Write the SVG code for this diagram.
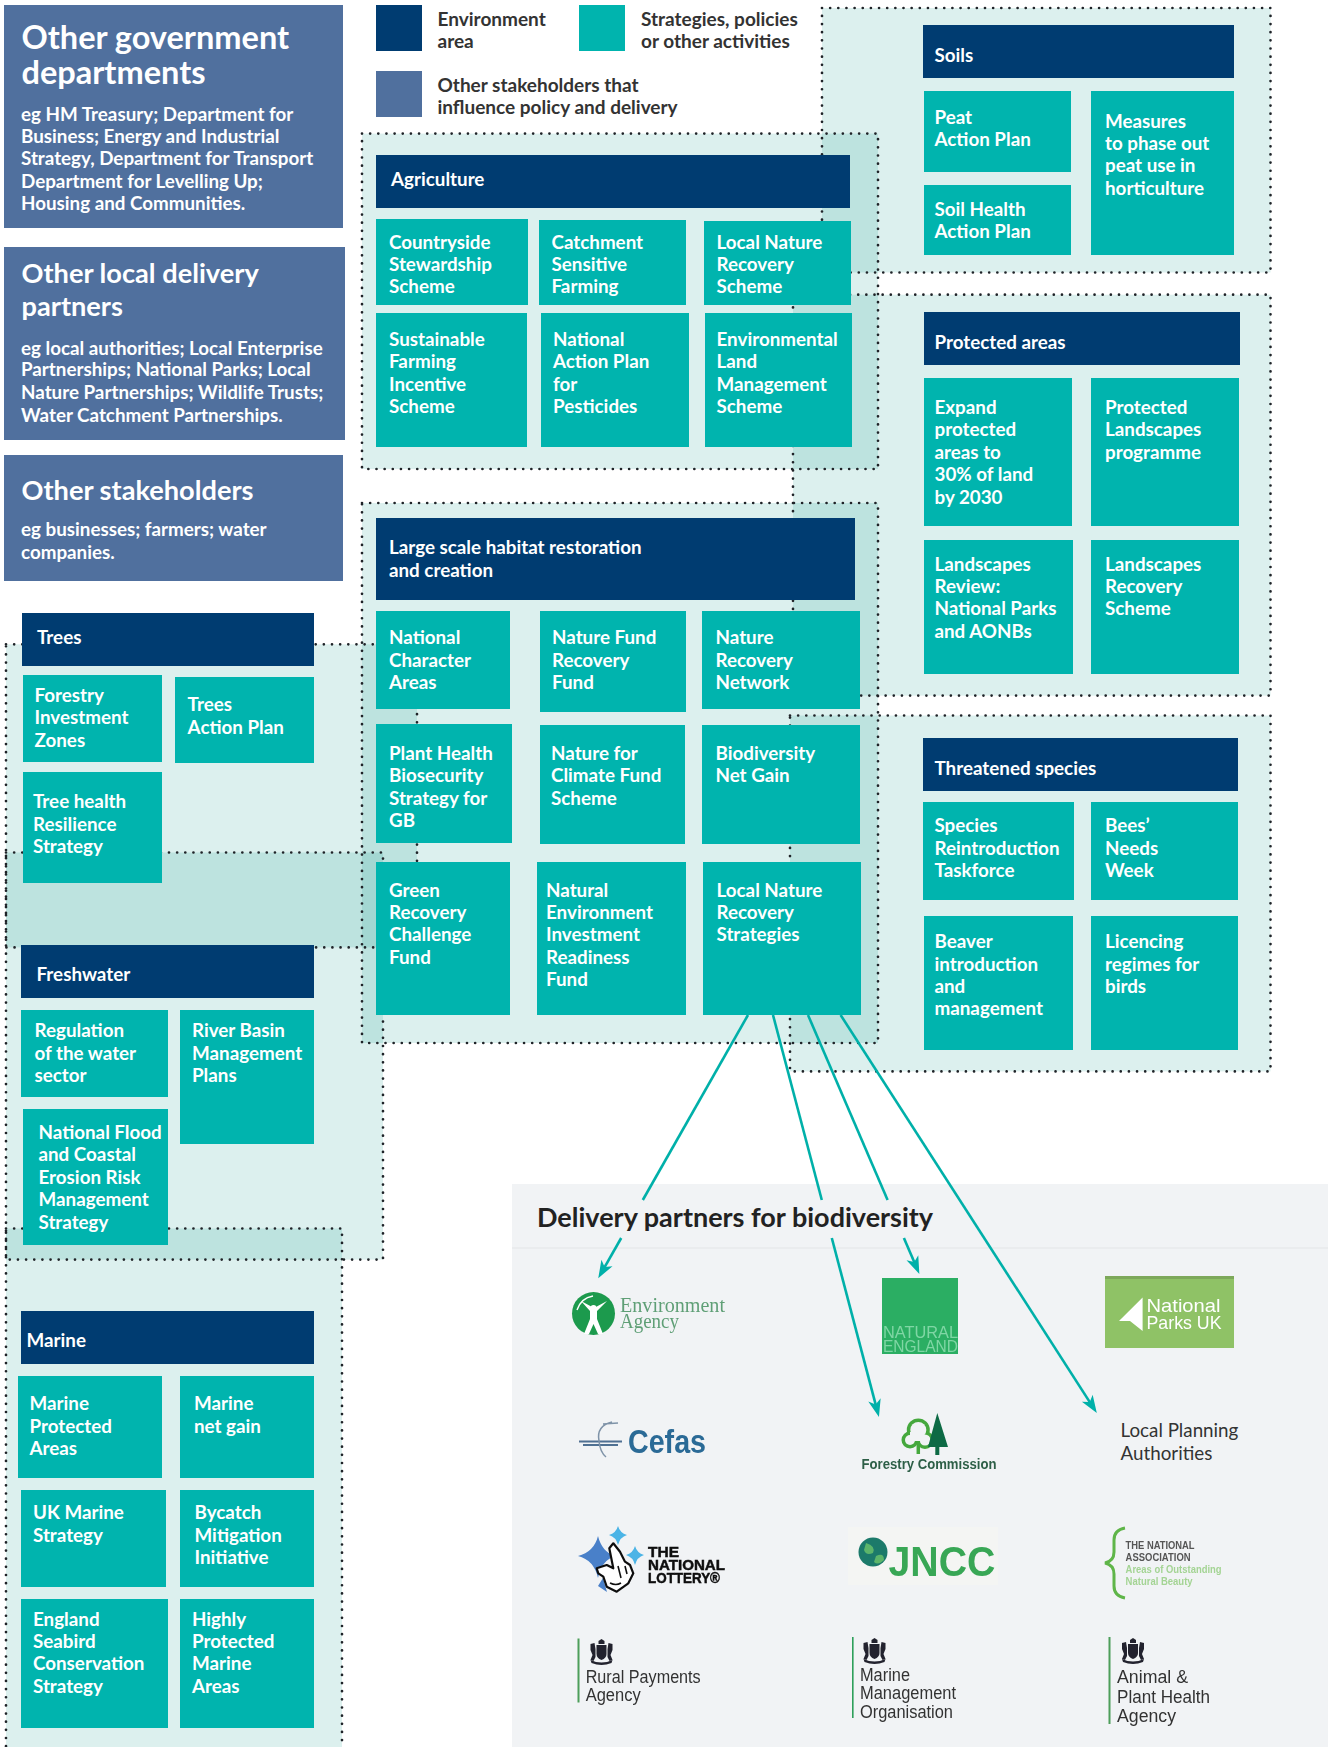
<svg xmlns="http://www.w3.org/2000/svg" width="1328" height="1747" viewBox="0 0 1328 1747">
<style>
text{font-family:"Lato","Liberation Sans",sans-serif}
.n{fill:#003c71}.t{fill:#00b4ae}.b{fill:#50709e}
.w{fill:#fff;font-weight:700;font-size:18.8px;transform:translateY(1px)}
.h1{fill:#fff;font-weight:700;font-size:32.5px}
.h2{fill:#fff;font-weight:700;font-size:27.2px}
.lg{fill:#333;font-weight:700;font-size:19px;transform:translateY(1px)}
.reg{fill:#009183;fill-opacity:.137;stroke:none}
.dot{fill:none;stroke:#1f2328;stroke-width:2.7;stroke-linecap:round;stroke-dasharray:0 8.15}
.c{stroke:#00b0a9;stroke-width:2.6;fill:none}
.m{fill:#333;font-size:17.5px;font-family:"Liberation Sans",sans-serif}
.crest{fill:#23232e}
.lo{font-family:"Liberation Sans",sans-serif;font-weight:700;font-size:15.5px;fill:#111;stroke:#111;stroke-width:.5}
</style>
<defs>
<marker id="ah" markerUnits="userSpaceOnUse" markerWidth="20" markerHeight="16" refX="8" refY="7" orient="auto"><path d="M18,7 L0.4,0.6 L5,7 L0.4,13.4Z" fill="#00b0a9"/></marker>
<filter id="soft" x="-5%" y="-5%" width="110%" height="110%"><feGaussianBlur stdDeviation="0.7"/></filter>
<g id="arms" class="crest">
<path d="M-3,-11L0,-13L3,-11L3,-8H-3Z"/>
<path d="M-5,-7H5V2Q5,6 0,8Q-5,6 -5,2Z"/>
<path d="M-11,-8L-7,-9L-6,-3L-6,5L-8,9L-11,8L-9,3L-11,-2Z"/>
<path d="M11,-8L7,-9L6,-3L6,5L8,9L11,8L9,3L11,-2Z"/>
<path d="M-11,8Q0,13 11,8L10,11Q0,15 -10,11Z"/>
</g>
</defs>
<rect width="1328" height="1747" fill="#fff"/>

<g id="delivery-panel">
<rect x="512" y="1184" width="816" height="563" fill="#f1f3f5"/>
<rect x="512" y="1247.5" width="816" height="1" fill="#e3e5e8"/>
</g>

<g id="regions">
<rect class="reg" x="822" y="8" width="448.5" height="264.5"/>
<rect class="reg" x="362" y="133.6" width="516" height="335.4"/>
<rect class="reg" x="793" y="294.7" width="477.5" height="400.9"/>
<rect class="reg" x="362" y="503" width="516" height="540"/>
<rect class="reg" x="790" y="715.5" width="480.5" height="355.9"/>
<rect class="reg" x="6" y="644.3" width="411" height="303.1"/>
<rect class="reg" x="6" y="852.5" width="377" height="407.1"/>
<rect class="reg" x="6" y="1228.5" width="336" height="530"/>
<rect class="dot" x="822" y="8" width="448.5" height="264.5"/>
<rect class="dot" x="362" y="133.6" width="516" height="335.4"/>
<rect class="dot" x="793" y="294.7" width="477.5" height="400.9"/>
<rect class="dot" x="362" y="503" width="516" height="540"/>
<rect class="dot" x="790" y="715.5" width="480.5" height="355.9"/>
<rect class="dot" x="6" y="644.3" width="411" height="303.1"/>
<rect class="dot" x="6" y="852.5" width="377" height="407.1"/>
<rect class="dot" x="6" y="1228.5" width="336" height="530"/>
</g>

<g id="connectors">
<path class="c" d="M748,1015L642.8,1200"/><path class="c" d="M621.2,1238L603.2,1269.6" marker-end="url(#ah)"/>
<path class="c" d="M773,1015L821.8,1200"/><path class="c" d="M831.8,1238L876.4,1407.3" marker-end="url(#ah)"/>
<path class="c" d="M808,1015L887.6,1200"/><path class="c" d="M903.9,1238L915.4,1264.8" marker-end="url(#ah)"/>
<path class="c" d="M840.6,1015L1091.4,1404.6" marker-end="url(#ah)"/>
</g>

<g id="stake-gov"><rect class="b" x="4" y="5" width="339" height="223"/>
<text class="h1" x="21.5" y="49">Other government</text><text class="h1" x="21.5" y="84">departments</text>
<text class="w" x="21" y="120">eg HM Treasury; Department for</text><text class="w" x="21" y="142.2">Business; Energy and Industrial</text><text class="w" x="21" y="164.2">Strategy, Department for Transport</text><text class="w" x="21" y="187">Department for Levelling Up;</text><text class="w" x="21" y="209">Housing and Communities.</text></g>
<g id="stake-local"><rect class="b" x="4" y="247" width="341" height="193"/>
<text class="h2" x="21.5" y="283.4">Other local delivery</text><text class="h2" x="21.5" y="315.6">partners</text>
<text class="w" x="21" y="353.5">eg local authorities; Local Enterprise</text><text class="w" x="21" y="375.3">Partnerships; National Parks; Local</text><text class="w" x="21" y="398.3">Nature Partnerships; Wildlife Trusts;</text><text class="w" x="21" y="420.5">Water Catchment Partnerships.</text></g>
<g id="stake-other"><rect class="b" x="4" y="455" width="339" height="126"/>
<text class="h2" x="21.5" y="500.4">Other stakeholders</text>
<text class="w" x="21" y="535.3">eg businesses; farmers; water</text><text class="w" x="21" y="557.5">companies.</text></g>

<g id="legend">
<rect class="n" x="376" y="5" width="46" height="46"/><text class="lg" x="437.5" y="25">Environment</text><text class="lg" x="437.5" y="47">area</text>
<rect class="t" x="579" y="5" width="46" height="46"/><text class="lg" x="641" y="25">Strategies, policies</text><text class="lg" x="641" y="47">or other activities</text>
<rect class="b" x="376" y="71" width="46" height="46"/><text class="lg" x="437.5" y="91">Other stakeholders that</text><text class="lg" x="437.5" y="113">influence policy and delivery</text>
</g>

<g id="agriculture"><rect class="n" x="376" y="155" width="474" height="53"/><text class="w" x="391" y="184.8">Agriculture</text></g>
<g id="countryside"><rect class="t" x="376" y="219" width="152" height="86"/><text class="w" x="389" y="248">Countryside</text><text class="w" x="389" y="269.8">Stewardship</text><text class="w" x="389" y="292">Scheme</text></g>
<g id="catchment"><rect class="t" x="539" y="220" width="147" height="85"/><text class="w" x="551.5" y="248">Catchment</text><text class="w" x="551.5" y="269.8">Sensitive</text><text class="w" x="551.5" y="292">Farming</text></g>
<g id="lnr-scheme"><rect class="t" x="704" y="221" width="147" height="84"/><text class="w" x="716.5" y="248">Local Nature</text><text class="w" x="716.5" y="269.8">Recovery</text><text class="w" x="716.5" y="292">Scheme</text></g>
<g id="sfi"><rect class="t" x="376" y="313" width="151" height="134"/><text class="w" x="389" y="345.2">Sustainable</text><text class="w" x="389" y="367">Farming</text><text class="w" x="389" y="390">Incentive</text><text class="w" x="389" y="412">Scheme</text></g>
<g id="napp"><rect class="t" x="541" y="313" width="148" height="134"/><text class="w" x="553" y="345.2">National</text><text class="w" x="553" y="367">Action Plan</text><text class="w" x="553" y="390">for</text><text class="w" x="553" y="412">Pesticides</text></g>
<g id="elms"><rect class="t" x="705" y="313" width="147" height="134"/><text class="w" x="716.5" y="345.2">Environmental</text><text class="w" x="716.5" y="367">Land</text><text class="w" x="716.5" y="390">Management</text><text class="w" x="716.5" y="412">Scheme</text></g>

<g id="soils"><rect class="n" x="923" y="25" width="311" height="53"/><text class="w" x="934.5" y="61">Soils</text></g>
<g id="peat"><rect class="t" x="924" y="91" width="147" height="81"/><text class="w" x="934.5" y="123">Peat</text><text class="w" x="934.5" y="145.4">Action Plan</text></g>
<g id="soil-health"><rect class="t" x="924" y="185" width="147" height="70"/><text class="w" x="934.5" y="215">Soil Health</text><text class="w" x="934.5" y="237">Action Plan</text></g>
<g id="measures"><rect class="t" x="1091" y="91" width="143" height="164"/><text class="w" x="1105" y="127">Measures</text><text class="w" x="1105" y="149">to phase out</text><text class="w" x="1105" y="171.4">peat use in</text><text class="w" x="1105" y="194">horticulture</text></g>

<g id="protected"><rect class="n" x="924" y="312" width="316" height="53"/><text class="w" x="934.5" y="348">Protected areas</text></g>
<g id="expand"><rect class="t" x="924" y="378" width="148" height="148"/><text class="w" x="934.5" y="413">Expand</text><text class="w" x="934.5" y="435">protected</text><text class="w" x="934.5" y="458">areas to</text><text class="w" x="934.5" y="480.3">30% of land</text><text class="w" x="934.5" y="503">by 2030</text></g>
<g id="plp"><rect class="t" x="1091" y="378" width="148" height="148"/><text class="w" x="1105" y="413">Protected</text><text class="w" x="1105" y="435">Landscapes</text><text class="w" x="1105" y="458">programme</text></g>
<g id="review"><rect class="t" x="924" y="540" width="149" height="134"/><text class="w" x="934.5" y="570">Landscapes</text><text class="w" x="934.5" y="592.4">Review:</text><text class="w" x="934.5" y="614">National Parks</text><text class="w" x="934.5" y="637">and AONBs</text></g>
<g id="lrs"><rect class="t" x="1091" y="540" width="148" height="134"/><text class="w" x="1105" y="570">Landscapes</text><text class="w" x="1105" y="592.4">Recovery</text><text class="w" x="1105" y="614">Scheme</text></g>

<g id="habitat"><rect class="n" x="376" y="518" width="479" height="82"/><text class="w" x="389" y="553.4">Large scale habitat restoration</text><text class="w" x="389" y="576">and creation</text></g>
<g id="nca"><rect class="t" x="376" y="611" width="134" height="98"/><text class="w" x="389" y="643">National</text><text class="w" x="389" y="665.5">Character</text><text class="w" x="389" y="688">Areas</text></g>
<g id="nfrf"><rect class="t" x="540" y="611" width="146" height="101"/><text class="w" x="552" y="643">Nature Fund</text><text class="w" x="552" y="665.5">Recovery</text><text class="w" x="552" y="688">Fund</text></g>
<g id="nrn"><rect class="t" x="702" y="611" width="158" height="98"/><text class="w" x="715.5" y="643">Nature</text><text class="w" x="715.5" y="665.5">Recovery</text><text class="w" x="715.5" y="688">Network</text></g>
<g id="plant-health"><rect class="t" x="376" y="724" width="136" height="119"/><text class="w" x="389" y="759">Plant Health</text><text class="w" x="389" y="781">Biosecurity</text><text class="w" x="389" y="803.5">Strategy for</text><text class="w" x="389" y="826">GB</text></g>
<g id="nfcf"><rect class="t" x="540" y="725" width="145" height="119"/><text class="w" x="551" y="759">Nature for</text><text class="w" x="551" y="781">Climate Fund</text><text class="w" x="551" y="803.5">Scheme</text></g>
<g id="bng"><rect class="t" x="702" y="725" width="158" height="119"/><text class="w" x="715.5" y="759">Biodiversity</text><text class="w" x="715.5" y="781">Net Gain</text></g>
<g id="grcf"><rect class="t" x="376" y="862" width="134" height="153"/><text class="w" x="389" y="896">Green</text><text class="w" x="389" y="918">Recovery</text><text class="w" x="389" y="940">Challenge</text><text class="w" x="389" y="963">Fund</text></g>
<g id="neirf"><rect class="t" x="537" y="862" width="149" height="153"/><text class="w" x="546" y="896">Natural</text><text class="w" x="546" y="918">Environment</text><text class="w" x="546" y="940">Investment</text><text class="w" x="546" y="963">Readiness</text><text class="w" x="546" y="985">Fund</text></g>
<g id="lnrs"><rect class="t" x="703" y="862" width="158" height="153"/><text class="w" x="716.5" y="896">Local Nature</text><text class="w" x="716.5" y="918">Recovery</text><text class="w" x="716.5" y="940">Strategies</text></g>

<g id="threatened"><rect class="n" x="923" y="738" width="315" height="53"/><text class="w" x="934.5" y="774">Threatened species</text></g>
<g id="species"><rect class="t" x="923" y="802" width="151" height="98"/><text class="w" x="934.5" y="831">Species</text><text class="w" x="934.5" y="854">Reintroduction</text><text class="w" x="934.5" y="876">Taskforce</text></g>
<g id="bees"><rect class="t" x="1091" y="802" width="147" height="98"/><text class="w" x="1105" y="831">Bees’</text><text class="w" x="1105" y="854">Needs</text><text class="w" x="1105" y="876">Week</text></g>
<g id="beaver"><rect class="t" x="924" y="916" width="149" height="134"/><text class="w" x="934.5" y="947">Beaver</text><text class="w" x="934.5" y="970">introduction</text><text class="w" x="934.5" y="992">and</text><text class="w" x="934.5" y="1014">management</text></g>
<g id="licencing"><rect class="t" x="1091" y="916" width="147" height="134"/><text class="w" x="1105" y="947">Licencing</text><text class="w" x="1105" y="970">regimes for</text><text class="w" x="1105" y="992">birds</text></g>

<g id="trees"><rect class="n" x="22" y="613" width="292" height="53"/><text class="w" x="37" y="643">Trees</text></g>
<g id="forestry"><rect class="t" x="23" y="675" width="139" height="87"/><text class="w" x="34.5" y="701">Forestry</text><text class="w" x="34.5" y="723">Investment</text><text class="w" x="34.5" y="746">Zones</text></g>
<g id="trees-plan"><rect class="t" x="175" y="677" width="139" height="86"/><text class="w" x="187.6" y="710">Trees</text><text class="w" x="187.6" y="733">Action Plan</text></g>
<g id="tree-health"><rect class="t" x="23" y="772" width="139" height="111"/><text class="w" x="33" y="807">Tree health</text><text class="w" x="33" y="830">Resilience</text><text class="w" x="33" y="852">Strategy</text></g>

<g id="freshwater"><rect class="n" x="21" y="945" width="293" height="53"/><text class="w" x="36.5" y="980">Freshwater</text></g>
<g id="regulation"><rect class="t" x="21" y="1010" width="147" height="87"/><text class="w" x="34.5" y="1036">Regulation</text><text class="w" x="34.5" y="1059">of the water</text><text class="w" x="34.5" y="1081">sector</text></g>
<g id="rbmp"><rect class="t" x="180" y="1010" width="134" height="134"/><text class="w" x="192" y="1036">River Basin</text><text class="w" x="192" y="1059">Management</text><text class="w" x="192" y="1081">Plans</text></g>
<g id="flood"><rect class="t" x="23" y="1109" width="145" height="136"/><text class="w" x="38.5" y="1138">National Flood</text><text class="w" x="38.5" y="1160">and Coastal</text><text class="w" x="38.5" y="1183">Erosion Risk</text><text class="w" x="38.5" y="1205">Management</text><text class="w" x="38.5" y="1228">Strategy</text></g>

<g id="marine"><rect class="n" x="21" y="1311" width="293" height="53"/><text class="w" x="26.5" y="1346">Marine</text></g>
<g id="mpa"><rect class="t" x="18" y="1376" width="144" height="102"/><text class="w" x="29.5" y="1409">Marine</text><text class="w" x="29.5" y="1432">Protected</text><text class="w" x="29.5" y="1454">Areas</text></g>
<g id="mng"><rect class="t" x="180" y="1376" width="134" height="102"/><text class="w" x="194" y="1409">Marine</text><text class="w" x="194" y="1432">net gain</text></g>
<g id="ukms"><rect class="t" x="21" y="1490" width="145" height="97"/><text class="w" x="33" y="1518">UK Marine</text><text class="w" x="33" y="1541">Strategy</text></g>
<g id="bycatch"><rect class="t" x="180" y="1490" width="134" height="97"/><text class="w" x="194.5" y="1518">Bycatch</text><text class="w" x="194.5" y="1541">Mitigation</text><text class="w" x="194.5" y="1563">Initiative</text></g>
<g id="seabird"><rect class="t" x="21" y="1599" width="147" height="129"/><text class="w" x="33" y="1625">England</text><text class="w" x="33" y="1647">Seabird</text><text class="w" x="33" y="1669">Conservation</text><text class="w" x="33" y="1692">Strategy</text></g>
<g id="hpma"><rect class="t" x="180" y="1599" width="134" height="129"/><text class="w" x="192" y="1625">Highly</text><text class="w" x="192" y="1647">Protected</text><text class="w" x="192" y="1669">Marine</text><text class="w" x="192" y="1692">Areas</text></g>

<g id="delivery-title"><text x="537" y="1227" style="font-weight:700;font-size:27px;fill:#222">Delivery partners for biodiversity</text></g>

<g id="logo-ea" filter="url(#soft)">
<circle cx="593.5" cy="1313.5" r="21.5" fill="#1f9a4e"/>
<circle cx="593.5" cy="1308" r="3" fill="#fff"/>
<path d="M581,1301L590,1311L590,1319L584,1334L589,1334L593.5,1324L598,1334L603,1334L597,1319L597,1311L607,1301L594,1308Z" fill="#fff"/>
<path d="M577,1310Q581,1298 593,1296" stroke="#fff" stroke-width="1.4" fill="none"/>
<text x="620" y="1311.5" textLength="105" lengthAdjust="spacingAndGlyphs" style="font-family:'Liberation Serif',serif;font-size:21px;fill:#5f9f76">Environment</text>
<text x="620" y="1328" textLength="59" lengthAdjust="spacingAndGlyphs" style="font-family:'Liberation Serif',serif;font-size:21px;fill:#5f9f76">Agency</text>
</g>
<g id="logo-ne">
<rect x="882" y="1278" width="76" height="76" fill="#2bae63"/>
<g filter="url(#soft)"><text x="883" y="1338" textLength="75" lengthAdjust="spacingAndGlyphs" style="font-family:'Liberation Sans',sans-serif;font-size:16px;fill:#7fd6a4">NATURAL</text>
<text x="883" y="1352" textLength="75" lengthAdjust="spacingAndGlyphs" style="font-family:'Liberation Sans',sans-serif;font-size:16px;fill:#7fd6a4">ENGLAND</text></g>
</g>
<g id="logo-npuk">
<rect x="1105" y="1276" width="129" height="72" fill="#8fc266"/><rect x="1105" y="1276" width="129" height="3" fill="#7da85a"/>
<path d="M1119,1321L1142.6,1297.5L1142.6,1331L1130,1321Z" fill="#fff"/>
<g filter="url(#soft)"><text x="1146.5" y="1312" textLength="74" lengthAdjust="spacingAndGlyphs" style="font-family:'Liberation Sans',sans-serif;font-size:19px;fill:#fff">National</text>
<text x="1146.5" y="1329" textLength="75" lengthAdjust="spacingAndGlyphs" style="font-family:'Liberation Sans',sans-serif;font-size:19px;fill:#fff">Parks UK</text></g>
</g>
<g id="logo-cefas" filter="url(#soft)">
<path d="M579,1441.5H622M583,1445H618" stroke="#4f6f92" stroke-width="1.8" fill="none"/>
<path d="M612,1422Q596,1426 599,1441Q600,1452 606,1457M603,1424L618,1423" stroke="#7f93a8" stroke-width="1.5" fill="none"/>
<text x="628" y="1453" textLength="78" lengthAdjust="spacingAndGlyphs" style="font-family:'Liberation Sans',sans-serif;font-weight:700;font-size:33px;fill:#2b6a96">Cefas</text>
</g>
<g id="logo-fc" filter="url(#soft)">
<circle cx="918.3" cy="1430" r="9" fill="none" stroke="#45a83c" stroke-width="5"/><circle cx="910" cy="1440" r="6" fill="none" stroke="#45a83c" stroke-width="5"/><circle cx="925" cy="1440" r="6.5" fill="none" stroke="#45a83c" stroke-width="5"/>
<circle cx="918.3" cy="1430" r="8" fill="#f1f3f5"/><circle cx="910" cy="1440" r="5" fill="#f1f3f5"/><circle cx="925" cy="1440" r="5.5" fill="#f1f3f5"/><rect x="910" y="1432" width="14" height="9" fill="#f1f3f5"/>
<path d="M918.3,1441V1454" stroke="#45a83c" stroke-width="3.5"/>
<path d="M937.3,1413L948,1447H939.3V1455H935.3V1447H928Z" fill="#0f6b45"/>
<text x="861.5" y="1468.5" textLength="135" lengthAdjust="spacingAndGlyphs" style="font-family:'Liberation Sans',sans-serif;font-weight:700;font-size:14px;fill:#2d5f47">Forestry Commission</text>
</g>
<g id="lpa"><text x="1120.5" y="1437" style="font-size:18.8px;fill:#333">Local Planning</text><text x="1120.5" y="1460" style="font-size:18.8px;fill:#333">Authorities</text></g>
<g id="logo-lottery" filter="url(#soft)">
<path d="M578,1556Q594,1552 598,1536Q602,1552 615,1556Q602,1560 598,1578Q594,1560 578,1556Z" fill="#4a80c9"/>
<path d="M603,1578L607,1592L598,1586Z" fill="#4a80c9"/>
<path d="M609,1535Q616,1533 618,1526Q620,1533 627,1535Q620,1537 618,1545Q616,1537 609,1535Z" fill="#4bb4e6"/>
<path d="M626,1555Q633,1553 635,1546Q637,1553 644,1555Q637,1557 635,1565Q633,1557 626,1555Z" fill="#4bb4e6"/>
<path d="M596.7,1568.3L606.7,1565L613.3,1568.3L609.3,1548.3L613.3,1543.3L620,1551.7L625,1561.7L630,1565L633.3,1573.3L628.3,1583.3L616.7,1591.7L606.7,1586.7L603.3,1576.7L598.3,1573.3Z" fill="#fff" stroke="#111" stroke-width="2.2" stroke-linejoin="round"/>
<path d="M618,1566L621,1578M625,1566L627,1574M610,1583Q616,1586 621,1583" stroke="#111" stroke-width="1.6" fill="none"/>
<text class="lo" x="648" y="1557">THE</text>
<text class="lo" x="648" y="1570" textLength="77" lengthAdjust="spacingAndGlyphs">NATIONAL</text>
<text class="lo" x="648" y="1583" textLength="72" lengthAdjust="spacingAndGlyphs">LOTTERY®</text>
</g>
<g id="logo-jncc" filter="url(#soft)">
<rect x="848" y="1527" width="150" height="58" fill="#f4f5f3"/>
<circle cx="873" cy="1552" r="14.5" fill="#1d7a6b"/><path d="M866,1543Q876,1546 873,1553Q866,1556 864,1550ZM876,1556Q884,1552 884,1560Q878,1566 874,1562Z" fill="#5bb56a"/>
<text x="888.5" y="1576" textLength="107" lengthAdjust="spacingAndGlyphs" style="font-family:'Liberation Sans',sans-serif;font-weight:700;font-size:42px;fill:#38a755">JNCC</text>
</g>
<g id="logo-aonb" filter="url(#soft)">
<path d="M1125,1528Q1114,1530 1114,1540V1552Q1114,1561 1105,1563Q1114,1565 1114,1574V1586Q1114,1596 1125,1598" fill="none" stroke="#5eb548" stroke-width="3"/>
<text x="1125.6" y="1549" textLength="69" lengthAdjust="spacingAndGlyphs" style="font-family:'Liberation Sans',sans-serif;font-weight:700;font-size:10.5px;fill:#555">THE NATIONAL</text>
<text x="1125.6" y="1560.5" textLength="65" lengthAdjust="spacingAndGlyphs" style="font-family:'Liberation Sans',sans-serif;font-weight:700;font-size:10.5px;fill:#555">ASSOCIATION</text>
<text x="1125.6" y="1573" textLength="96" lengthAdjust="spacingAndGlyphs" style="font-family:'Liberation Sans',sans-serif;font-weight:700;font-size:10.5px;fill:#a4d494">Areas of Outstanding</text>
<text x="1125.6" y="1584.5" textLength="67" lengthAdjust="spacingAndGlyphs" style="font-family:'Liberation Sans',sans-serif;font-weight:700;font-size:10.5px;fill:#a4d494">Natural Beauty</text>
</g>
<g id="logo-rpa" filter="url(#soft)">
<rect x="577.5" y="1638.5" width="2" height="64" fill="#4d9e5a"/>
<use href="#arms" x="601.5" y="1652"/>
<text class="m" x="585.7" y="1682.6" textLength="115" lengthAdjust="spacingAndGlyphs">Rural Payments</text>
<text class="m" x="585.7" y="1700.7" textLength="55" lengthAdjust="spacingAndGlyphs">Agency</text>
</g>
<g id="logo-mmo" filter="url(#soft)">
<rect x="852" y="1637" width="1.6" height="81" fill="#2ea05a"/>
<use href="#arms" x="874.5" y="1651"/>
<text class="m" x="860" y="1681" textLength="50" lengthAdjust="spacingAndGlyphs">Marine</text>
<text class="m" x="860" y="1699" textLength="96" lengthAdjust="spacingAndGlyphs">Management</text>
<text class="m" x="860" y="1717.5" textLength="93" lengthAdjust="spacingAndGlyphs">Organisation</text>
</g>
<g id="logo-apha" filter="url(#soft)">
<rect x="1108.5" y="1637" width="2" height="87" fill="#4d9e5a"/>
<use href="#arms" x="1133" y="1651"/>
<text class="m" x="1117" y="1683" textLength="71" lengthAdjust="spacingAndGlyphs">Animal &amp;</text>
<text class="m" x="1117" y="1702.5" textLength="93" lengthAdjust="spacingAndGlyphs">Plant Health</text>
<text class="m" x="1117" y="1721.7" textLength="59" lengthAdjust="spacingAndGlyphs">Agency</text>
</g>
</svg>
